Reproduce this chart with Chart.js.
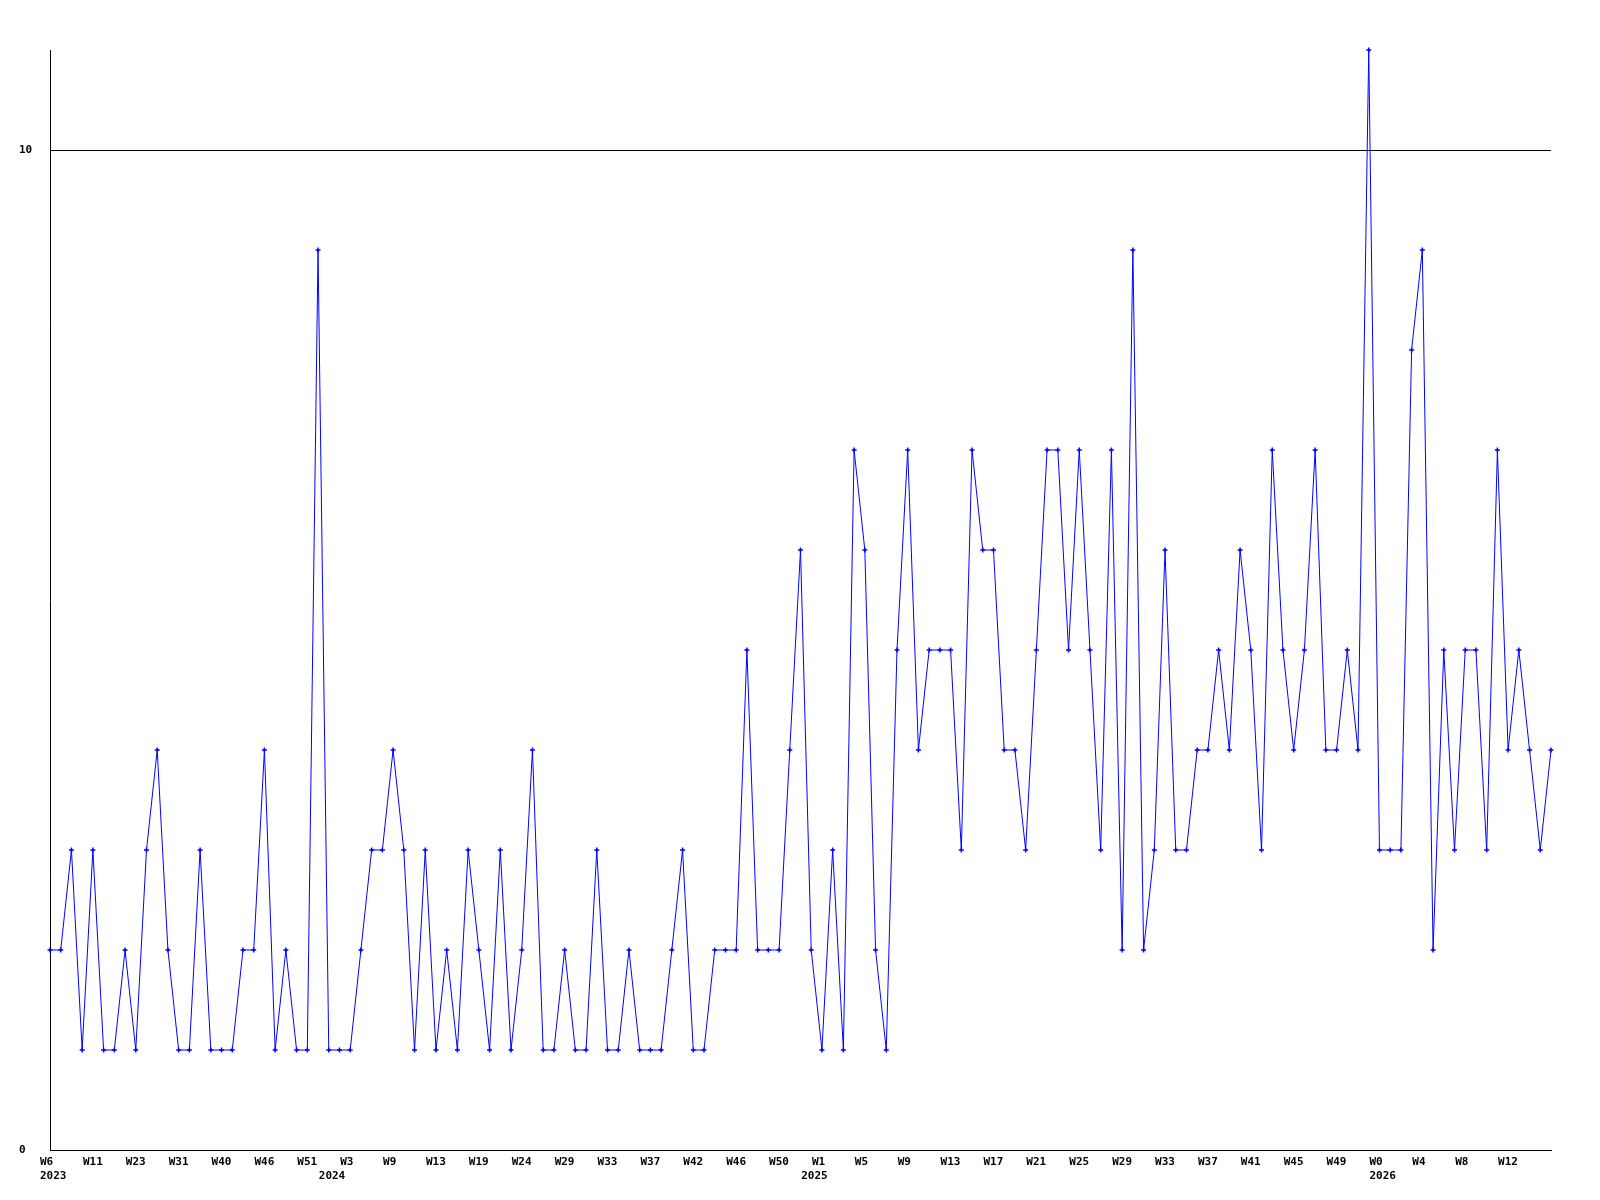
<!DOCTYPE html>
<html>
<head>
<meta charset="utf-8">
<style>
html,body{margin:0;padding:0;background:#ffffff;}
canvas{display:block;}
</style>
<script src="https://cdn.jsdelivr.net/npm/chart.js@4.4.1/dist/chart.umd.min.js"></script>
</head>
<body>
<canvas id="c" width="1600" height="1200"></canvas>
<script>
// Weekly counts, one per point, left to right
const values = [
  2,2,3,1,3,1,1,2,1,3,
  4,2,1,1,3,1,1,1,2,2,
  4,1,2,1,1,9,1,1,1,2,
  3,3,4,3,1,3,1,2,1,3,
  2,1,3,1,2,4,1,1,2,1,
  1,3,1,1,2,1,1,1,2,3,
  1,1,2,2,2,5,2,2,2,4,
  6,2,1,3,1,7,6,2,1,5,
  7,4,5,5,5,3,7,6,6,4,
  4,3,5,7,7,5,7,5,3,7,
  2,9,2,3,6,3,3,4,4,5,
  4,6,5,3,7,5,4,5,7,4,
  4,5,4,11,3,3,3,8,9,2,
  5,3,5,5,3,7,4,5,4,3,
  4
];
// Week tick labels, shown on every 4th point
const weekLabels = ['W6','W11','W23','W31','W40','W46','W51','W3','W9','W13','W19','W24',
  'W29','W33','W37','W42','W46','W50','W1','W5','W9','W13','W17','W21','W25',
  'W29','W33','W37','W41','W45','W49','W0','W4','W8','W12'];
const labelEvery = 4;
// Year labels and the point where each year begins
const years = ['2023','2024','2025','2026'];
const yearFirstPoint = [0, 26, 71, 124];
const yTickValues = [0, 10];
const categories = values.map((v, i) => i);

const FONT = { family: "'DejaVu Sans Mono', monospace", size: 11, weight: 'bold', lineHeight: 1.3 };

new Chart(document.getElementById('c'), {
  type: 'line',
  data: {
    labels: categories,
    datasets: [{
      data: values,
      borderColor: '#0000ff',
      borderWidth: 1,
      pointStyle: 'cross',
      pointRadius: 2.5,
      pointBorderWidth: 1.5,
      pointBorderColor: '#0000ff',
      pointBackgroundColor: '#0000ff',
      tension: 0,
      fill: false,
      clip: false
    }]
  },
  options: {
    responsive: false,
    animation: false,
    events: [],
    layout: { padding: { left: 19, top: 50, right: 49, bottom: 0 } },
    plugins: { legend: { display: false }, tooltip: { enabled: false } },
    scales: {
      x: {
        type: 'category',
        offset: false,
        grid: { display: false, drawTicks: false },
        border: { display: true, color: '#000000', width: 1 },
        afterFit: (s) => { s.height = 50; },
        ticks: {
          autoSkip: false,
          maxRotation: 0,
          minRotation: 0,
          align: 'start',
          labelOffset: -10,
          padding: 5,
          color: '#000000',
          font: FONT,
          callback: function (value) {
            const i = Number(value);
            const w = (i % labelEvery === 0 && weekLabels[i / labelEvery]) ? weekLabels[i / labelEvery] : '';
            const yi = yearFirstPoint.indexOf(i);
            const y = yi >= 0 ? years[yi] : '';
            if (!w && !y) return '';
            return y ? [w, y] : w;
          }
        }
      },
      y: {
        min: 0,
        max: 11,
        afterBuildTicks: (s) => { s.ticks = yTickValues.map(v => ({ value: v })); },
        afterFit: (s) => { s.width = 31; },
        grid: { display: true, color: '#000000', lineWidth: 1, drawTicks: false },
        border: { display: true, color: '#000000', width: 1 },
        ticks: {
          crossAlign: 'far',
          padding: 0,
          color: '#000000',
          font: FONT
        }
      }
    }
  }
});
</script>
</body>
</html>
